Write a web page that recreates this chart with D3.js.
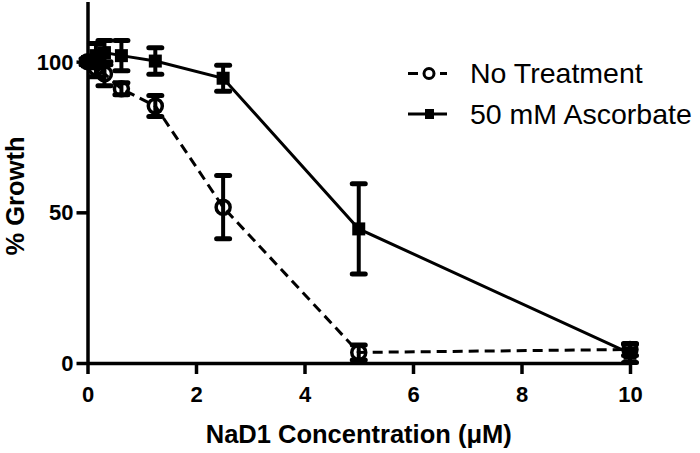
<!DOCTYPE html>
<html>
<head>
<meta charset="utf-8" />
<script src="https://d3js.org/d3.v7.min.js"></script>
<style>
  body { margin: 0; background: #fff; }
  svg { display: block; font-family: "Liberation Sans", Arial, sans-serif; }
</style>
</head>
<body>
<div id="chart"></div>
<script>
  // NaD1 concentrations (uM), two-fold dilutions
  var conc = [0, 0.156, 0.3125, 0.625, 1.25, 2.5, 5, 10];

  // % growth, no treatment
  var noTreat = [100, 98, 96, 91, 85.3, 51.7, 3.5, 4.5];
  var noTreatErr = [0, 3, 4, 2, 3.5, 10.5, 2.5, 2];

  // % growth, 50 mM ascorbate
  var ascorbate = [100, 102, 103, 102, 100.2, 94.5, 44.5, 3.2];
  var ascorbateErr = [1, 4, 4, 5, 4.4, 4.3, 15, 3];

  var xTicks = [0, 2, 4, 6, 8, 10];
  var yTicks = [0, 50, 100];
  var seriesNames = ["No Treatment", "50 mM Ascorbate"];

  var width = 700, height = 453;

  var svg = d3.select("#chart")
    .append("svg")
    .attr("width", width)
    .attr("height", height);

  var x = d3.scaleLinear().domain([0, 10]).range([87.5, 630]);
  var y = d3.scaleLinear().domain([0, 120]).range([363, 1.4]);

  // axes
  var xAxis = svg.append("g")
    .attr("transform", "translate(0," + y(0) + ")")
    .call(d3.axisBottom(x).tickValues(xTicks).tickSize(11).tickSizeOuter(0).tickPadding(12));

  var yAxis = svg.append("g")
    .attr("transform", "translate(" + x(0) + ",0)")
    .call(d3.axisLeft(y).tickValues(yTicks).tickSize(11).tickSizeOuter(0).tickPadding(3));

  [xAxis, yAxis].forEach(function (g) {
    g.select(".domain").attr("stroke", "#000").attr("stroke-width", 3.5);
    g.selectAll(".tick line").attr("stroke", "#000").attr("stroke-width", 3.5);
    g.selectAll(".tick text")
      .attr("fill", "#000")
      .style("font-family", "'Liberation Sans', Arial, sans-serif")
      .style("font-size", "22px")
      .style("font-weight", "bold");
  });
  yAxis.selectAll(".tick text").attr("dy", "0.34em");

  // axis titles
  svg.append("text")
    .attr("x", (x(0) + x(10)) / 2)
    .attr("y", 443)
    .attr("text-anchor", "middle")
    .style("font-size", "25.5px")
    .style("font-weight", "bold")
    .text("NaD1 Concentration (\u03BCM)");

  svg.append("text")
    .attr("transform", "translate(24,196) rotate(-90)")
    .attr("text-anchor", "middle")
    .style("font-size", "25.5px")
    .style("font-weight", "bold")
    .text("% Growth");

  function drawErrors(vals, errs) {
    var g = svg.append("g").attr("stroke", "#000");
    conc.forEach(function (c, i) {
      if (!errs[i]) return;
      var cx = x(c);
      g.append("line")
        .attr("x1", cx).attr("x2", cx)
        .attr("y1", y(vals[i] - errs[i])).attr("y2", y(vals[i] + errs[i]))
        .attr("stroke-width", 4);
      [vals[i] - errs[i], vals[i] + errs[i]].forEach(function (v) {
        g.append("line")
          .attr("x1", cx - 6.5).attr("x2", cx + 6.5)
          .attr("y1", y(v)).attr("y2", y(v))
          .attr("stroke-width", 5)
          .attr("stroke-linecap", "round");
      });
    });
  }

  var line = d3.line()
    .x(function (d) { return x(d[0]); })
    .y(function (d) { return y(d[1]); });

  drawErrors(noTreat, noTreatErr);
  drawErrors(ascorbate, ascorbateErr);

  svg.append("path")
    .datum(conc.map(function (c, i) { return [c, noTreat[i]]; }))
    .attr("d", line)
    .attr("fill", "none")
    .attr("stroke", "#000")
    .attr("stroke-width", 3)
    .attr("stroke-dasharray", "10,6");

  svg.append("path")
    .datum(conc.map(function (c, i) { return [c, ascorbate[i]]; }))
    .attr("d", line)
    .attr("fill", "none")
    .attr("stroke", "#000")
    .attr("stroke-width", 3);

  svg.append("g")
    .selectAll("circle")
    .data(conc)
    .join("circle")
    .attr("cx", function (d) { return x(d); })
    .attr("cy", function (d, i) { return y(noTreat[i]); })
    .attr("r", 7)
    .attr("fill", "none")
    .attr("stroke", "#000")
    .attr("stroke-width", 3.5);

  svg.append("g")
    .selectAll("rect")
    .data(conc)
    .join("rect")
    .attr("x", function (d) { return x(d) - 6.5; })
    .attr("y", function (d, i) { return y(ascorbate[i]) - 6.5; })
    .attr("width", 13)
    .attr("height", 13)
    .attr("fill", "#000");

  // legend
  var legend = svg.append("g");
  var rows = [73.5, 114];

  legend.append("line")
    .attr("x1", 408).attr("x2", 447)
    .attr("y1", rows[0]).attr("y2", rows[0])
    .attr("stroke", "#000").attr("stroke-width", 3)
    .attr("stroke-dasharray", "10,6");
  legend.append("circle")
    .attr("cx", 429).attr("cy", rows[0]).attr("r", 5)
    .attr("fill", "#fff").attr("stroke", "#000").attr("stroke-width", 3);

  legend.append("line")
    .attr("x1", 408).attr("x2", 447)
    .attr("y1", rows[1]).attr("y2", rows[1])
    .attr("stroke", "#000").attr("stroke-width", 3);
  legend.append("rect")
    .attr("x", 425).attr("y", rows[1] - 5)
    .attr("width", 9).attr("height", 10)
    .attr("fill", "#000");

  legend.selectAll("text")
    .data(seriesNames)
    .join("text")
    .attr("x", 470)
    .attr("y", function (d, i) { return rows[i] + 9.5; })
    .style("font-size", "28.5px")
    .text(function (d) { return d; });
</script>
</body>
</html>
